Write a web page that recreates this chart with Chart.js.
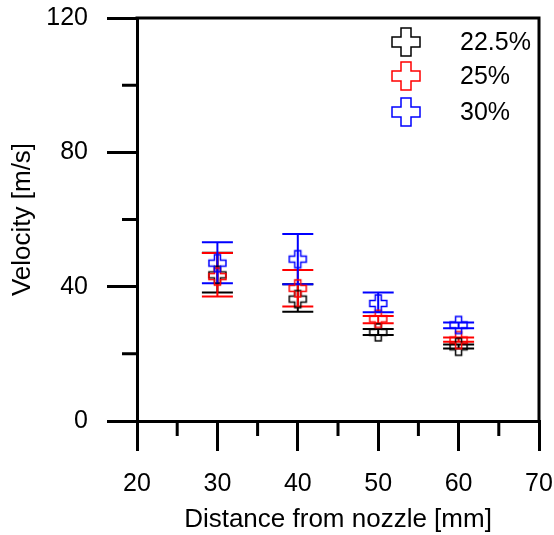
<!DOCTYPE html>
<html>
<head>
<meta charset="utf-8">
<script src="https://cdn.jsdelivr.net/npm/chart.js@4.4.1/dist/chart.umd.min.js"></script>
<style>
  html, body { margin: 0; padding: 0; background: #fff; }
  #wrap { width: 554px; height: 535px; }
</style>
</head>
<body>
<div id="wrap"><canvas id="c" width="554" height="535"></canvas></div>
<script>
// ---- data ----
const distances = [30, 40, 50, 60];
const seriesLabels = ['22.5%', '25%', '30%'];
const v225 = [43.5, 36.3, 26.4, 22.1];
const v225Upper = [50.1, 40.7, 27.4, 22.8];
const v225Lower = [38.3, 32.5, 25.6, 21.6];
const v25 = [43.0, 39.5, 30.4, 24.1];
const v25Upper = [50.0, 45.0, 31.3, 24.9];
const v25Lower = [37.1, 34.1, 29.1, 23.6];
const v30 = [47.0, 48.2, 35.0, 28.6];
const v30Upper = [53.2, 55.7, 38.3, 29.3];
const v30Lower = [41.0, 40.7, 32.4, 27.6];
const xMajorTicks = [20, 30, 40, 50, 60, 70];
const xMinorTicks = [25, 35, 45, 55, 65];
const yMajorTicks = [0, 40, 80, 120];
const yMinorTicks = [20, 60, 100];

const colors = ['#000000', '#ff0000', '#0000ff'];
const FONT = 'Liberation Sans, Arial, sans-serif';

function crossCanvas(color, size, arm, lw) {
  const cv = document.createElement('canvas');
  cv.width = size + 4; cv.height = size + 4;
  const g = cv.getContext('2d');
  const c = cv.width / 2, h = size / 2, a = arm / 2;
  g.beginPath();
  g.moveTo(c - a, c - h); g.lineTo(c + a, c - h); g.lineTo(c + a, c - a);
  g.lineTo(c + h, c - a); g.lineTo(c + h, c + a); g.lineTo(c + a, c + a);
  g.lineTo(c + a, c + h); g.lineTo(c - a, c + h); g.lineTo(c - a, c + a);
  g.lineTo(c - h, c + a); g.lineTo(c - h, c - a); g.lineTo(c - a, c - a);
  g.closePath();
  g.strokeStyle = color; g.lineWidth = lw; g.stroke();
  return cv;
}

const values = [v225, v25, v30];
const uppers = [v225Upper, v25Upper, v30Upper];
const lowers = [v225Lower, v25Lower, v30Lower];

const datasets = values.map((vals, i) => ({
  label: seriesLabels[i],
  data: distances.map((d, j) => ({ x: d, y: vals[j] })),
  upper: uppers[i],
  lower: lowers[i],
  showLine: false,
  pointStyle: crossCanvas(colors[i], 17, 6, 1.5),
  legendStyle: crossCanvas(colors[i], 28, 10, 1.5),
  pointRadius: 8,
  borderColor: colors[i],
  backgroundColor: colors[i],
  order: 3 - i
}));

const errorBars = {
  id: 'errorBars',
  beforeDatasetsDraw(chart) {
    const ctx = chart.ctx, xs = chart.scales.x, ys = chart.scales.y;
    ctx.save();
    chart.data.datasets.forEach((ds) => {
      ctx.strokeStyle = ds.borderColor;
      ctx.lineWidth = 2;
      ds.data.forEach((p, j) => {
        const px = xs.getPixelForValue(p.x);
        const yt = ys.getPixelForValue(ds.upper[j]);
        const yb = ys.getPixelForValue(ds.lower[j]);
        ctx.beginPath();
        ctx.moveTo(px, yt); ctx.lineTo(px, yb);
        ctx.moveTo(px - 15.5, yt); ctx.lineTo(px + 15.5, yt);
        ctx.moveTo(px - 15.5, yb); ctx.lineTo(px + 15.5, yb);
        ctx.stroke();
      });
    });
    ctx.restore();
  }
};

const frameAndMinor = {
  id: 'frameAndMinor',
  afterDraw(chart) {
    const ctx = chart.ctx, a = chart.chartArea, xs = chart.scales.x, ys = chart.scales.y;
    ctx.save();
    ctx.strokeStyle = '#000'; ctx.lineWidth = 3;
    ctx.beginPath();
    ctx.moveTo(a.left - 1.5, a.top); ctx.lineTo(a.right, a.top);
    ctx.moveTo(a.right, a.top - 1.5); ctx.lineTo(a.right, a.bottom);
    xMinorTicks.forEach(v => {
      const px = xs.getPixelForValue(v);
      ctx.moveTo(px, a.bottom); ctx.lineTo(px, a.bottom + 15);
    });
    yMinorTicks.forEach(v => {
      const py = ys.getPixelForValue(v);
      ctx.moveTo(a.left, py); ctx.lineTo(a.left - 15, py);
    });
    ctx.stroke();
    // legend
    ctx.font = '25px ' + FONT;
    ctx.fillStyle = '#000';
    ctx.textBaseline = 'middle';
    ctx.textAlign = 'left';
    const offs = [24, 58, 94];
    chart.data.datasets.forEach((ds, i) => {
      const cy = a.top + offs[i];
      const img = ds.legendStyle;
      ctx.drawImage(img, a.right - 133 - img.width / 2, cy - img.height / 2);
      ctx.fillText(ds.label, a.right - 79, cy + 1);
    });
    ctx.restore();
  }
};

function zeroPad(s) { s.paddingTop = 0; s.paddingBottom = 0; s.paddingLeft = 0; s.paddingRight = 0; }

new Chart(document.getElementById('c'), {
  type: 'scatter',
  data: { datasets },
  options: {
    responsive: false,
    animation: false,
    devicePixelRatio: 1,
    layout: { padding: { left: 0, top: 18, right: 15, bottom: 0 } },
    plugins: { legend: { display: false }, tooltip: { enabled: false } },
    scales: {
      x: {
        type: 'linear', min: 20, max: 70,
        afterBuildTicks: (s) => { s.ticks = xMajorTicks.map(v => ({ value: v })); },
        afterFit: (s) => { s.height = 114; zeroPad(s); },
        border: { display: true, color: '#000', width: 3 },
        grid: { drawOnChartArea: false, drawTicks: true, tickLength: 30, color: '#000', lineWidth: 3 },
        ticks: { color: '#000', font: { family: FONT, size: 25 }, padding: 18, maxRotation: 0 },
        title: { display: true, text: 'Distance from nozzle [mm]', color: '#000', font: { family: FONT, size: 26 }, padding: { top: 0, bottom: 0 } }
      },
      y: {
        type: 'linear', min: 0, max: 120,
        afterBuildTicks: (s) => { s.ticks = yMajorTicks.map(v => ({ value: v })); },
        afterFit: (s) => { s.width = 137; zeroPad(s); },
        border: { display: true, color: '#000', width: 3 },
        grid: { drawOnChartArea: false, drawTicks: true, tickLength: 30, color: '#000', lineWidth: 3 },
        ticks: { color: '#000', font: { family: FONT, size: 25 }, padding: 19 },
        title: { display: true, text: 'Velocity [m/s]', color: '#000', font: { family: FONT, size: 26 }, padding: { top: 7, bottom: 0 } }
      }
    }
  },
  plugins: [errorBars, frameAndMinor]
});
</script>
</body>
</html>
